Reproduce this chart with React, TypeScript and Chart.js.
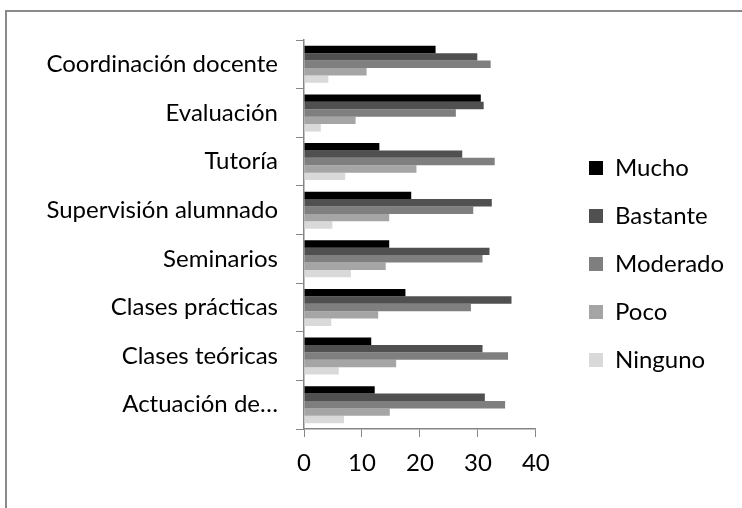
import React, { useEffect, useRef } from "react";
import { Chart, registerables } from "chart.js";

Chart.register(...registerables);

const categories = [
  "Coordinación docente",
  "Evaluación",
  "Tutoría",
  "Supervisión alumnado",
  "Seminarios",
  "Clases prácticas",
  "Clases teóricas",
  "Actuación de…",
];

const mucho = [22.7, 30.5, 13.0, 18.5, 14.7, 17.5, 11.6, 12.2];
const bastante = [29.9, 31.0, 27.3, 32.4, 32.0, 35.8, 30.8, 31.2];
const moderado = [32.2, 26.2, 32.9, 29.2, 30.8, 28.8, 35.2, 34.7];
const poco = [10.8, 8.9, 19.4, 14.7, 14.1, 12.8, 15.9, 14.8];
const ninguno = [4.2, 2.9, 7.1, 4.9, 8.1, 4.7, 6.0, 6.9];

const seriesNames = ["Mucho", "Bastante", "Moderado", "Poco", "Ninguno"];
const seriesColors = ["#000000", "#505050", "#7f7f7f", "#a5a5a5", "#d9d9d9"];
const xTicks = [0, 10, 20, 30, 40];

const FONT = "Lato, 'Open Sans', sans-serif";

export default function App() {
  const ref = useRef<HTMLCanvasElement | null>(null);

  useEffect(() => {
    if (!ref.current) return;
    const seriesValues = [mucho, bastante, moderado, poco, ninguno];
    const legendPlace = {
      id: "legendPlace",
      afterLayout(chart: any) {
        const lg = chart.legend;
        if (!lg) return;
        const w = lg.width;
        const h = lg.height;
        lg.left = 565;
        lg.right = 565 + w;
        lg.top = 132;
        lg.bottom = 132 + h;
      },
    };
    const chart = new Chart(ref.current, {
      type: "bar",
      data: {
        labels: categories,
        datasets: seriesNames.map((name, i) => ({
          label: name,
          data: seriesValues[i],
          backgroundColor: seriesColors[i],
          borderWidth: 0,
          categoryPercentage: 0.76,
          barPercentage: 1.0,
        })),
      },
      options: {
        indexAxis: "y",
        animation: false,
        responsive: false,
        maintainAspectRatio: false,
        layout: { padding: { top: 40, left: 0, right: 37, bottom: 0 } },
        font: { family: FONT },
        plugins: {
          tooltip: { enabled: false },
          legend: {
            position: "right",
            align: "start",
            labels: {
              boxWidth: 14,
              boxHeight: 14,
              padding: 24,
              color: "#000000",
              font: { family: FONT, size: 24 },
            },
          },
        },
        scales: {
          x: {
            min: 0,
            max: 40,
            afterBuildTicks(scale: any) {
              scale.ticks = xTicks.map((v) => ({ value: v }));
            },
            afterFit(scale: any) {
              scale.height = 79;
            },
            grid: {
              drawOnChartArea: false,
              drawTicks: true,
              tickLength: 8,
              color: "#868686",
            },
            border: { display: true, color: "#868686", width: 1.5 },
            ticks: {
              padding: 12,
              color: "#000000",
              font: { family: FONT, size: 24 },
              maxRotation: 0,
            },
          },
          y: {
            afterFit(scale: any) {
              scale.width = 304;
            },
            grid: {
              drawOnChartArea: false,
              drawTicks: true,
              tickLength: 8,
              color: "#868686",
              offset: true,
            },
            border: { display: true, color: "#868686", width: 1.5 },
            ticks: {
              padding: 18,
              color: "#000000",
              font: { family: FONT, size: 24 },
              autoSkip: false,
            },
          },
        },
      },
      plugins: [legendPlace],
    } as any);
    return () => chart.destroy();
  }, []);

  return (
    <div
      style={{
        position: "fixed",
        left: 0,
        top: 0,
        width: 742,
        height: 508,
        overflow: "hidden",
        background: "#ffffff",
      }}
    >
      <div
        style={{
          position: "absolute",
          left: 5,
          top: 10,
          width: 780,
          height: 540,
          border: "2px solid #8a8a8a",
          boxSizing: "border-box",
        }}
      />
      <canvas
        ref={ref}
        width={742}
        height={508}
        style={{ position: "absolute", left: 0, top: 0, width: 742, height: 508 }}
      />
    </div>
  );
}
